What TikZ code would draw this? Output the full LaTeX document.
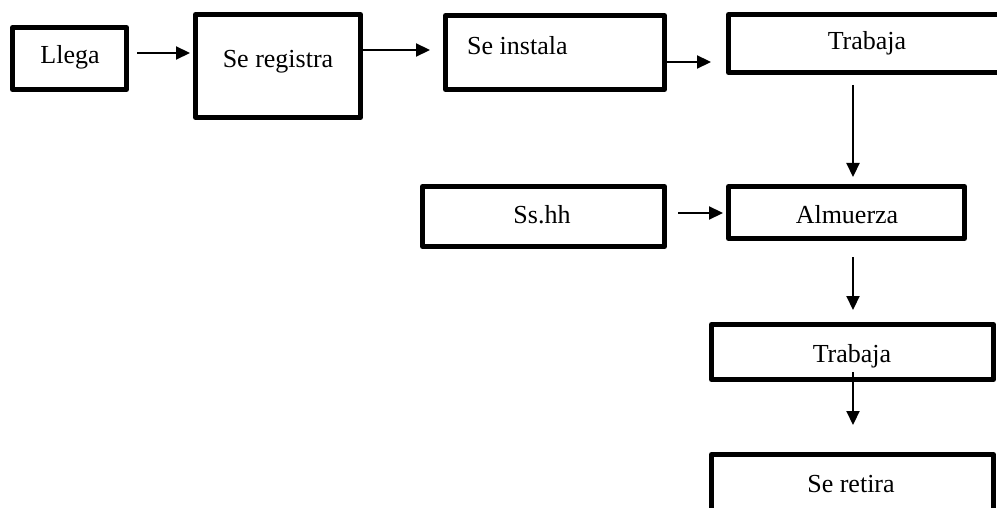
\documentclass[tikz,border=0pt]{standalone}
\usepackage{fontspec}
\setmainfont{Liberation Serif}
\usetikzlibrary{arrows.meta}
\begin{document}
\begin{tikzpicture}[x=1pt,y=-1pt,
  box/.style={draw=black, line width=5pt, line join=round, rectangle, inner sep=0pt, outer sep=0pt},
  lbl/.style={font=\fontsize{26}{30}\selectfont, inner sep=0pt, anchor=base},
  arr/.style={line width=2.2pt, -{Triangle[length=14pt,width=13pt]}}]
\useasboundingbox (0,0) rectangle (997,508);
\fill[white] (0,0) rectangle (997,508);
\clip (0,0) rectangle (997,508);
% boxes
\node[box, minimum width=114pt, minimum height=62pt] (llega) at (69.5,58.5) {};
\node[box, minimum width=165pt, minimum height=103pt] (reg) at (278,66) {};
\node[box, minimum width=219pt, minimum height=74pt] (inst) at (555,52.5) {};
\node[box, minimum width=274pt, minimum height=58pt] (trab1) at (865.5,43.5) {};
\node[box, minimum width=242pt, minimum height=60pt] (ss) at (543.5,216.5) {};
\node[box, minimum width=236pt, minimum height=52pt] (alm) at (846.5,212.5) {};
\node[box, minimum width=282pt, minimum height=55pt] (trab2) at (852.5,352) {};
\node[box, minimum width=282pt, minimum height=63pt] (ret) at (852.5,486) {};
% texts
\node[lbl] (tllega) at (70,64) {Llega};
\node[lbl] (treg) at (278,68) {Se registra};
\node[lbl, anchor=base west] (tinst) at (467,55) {Se instala};
\node[lbl] (ttrab1) at (867,50) {Trabaja};
\node[lbl] (tss) at (542,223) {Ss.hh};
\node[lbl] (talm) at (847,223) {Almuerza};
\node[lbl] (ttrab2) at (852,362) {Trabaja};
\node[lbl] (tret) at (851,492) {Se retira};
% connectors
\draw[arr, shorten <=10.5pt, shorten >=5.5pt] ([yshift=5.5pt]llega.east) -- ([yshift=13pt]reg.west);
\draw[arr, shorten >=15.5pt] ([yshift=16pt]reg.east) -- ([yshift=2.5pt]inst.west);
\draw[arr, shorten >=17.5pt] ([yshift=-9.5pt]inst.east) -- ([yshift=-18.5pt]trab1.west);
\draw[arr, shorten <=12.5pt, shorten >=9.5pt] ([xshift=-12.5pt]trab1.south) -- ([xshift=6.5pt]alm.north);
\draw[arr, shorten <=13.5pt, shorten >=5.5pt] ([yshift=3.5pt]ss.east) -- ([yshift=-0.5pt]alm.west);
\draw[arr, shorten <=18.5pt, shorten >=14.5pt] ([xshift=6.5pt]alm.south) -- ([xshift=0.5pt]trab2.north);
\draw[arr, shorten <=-7.5pt, shorten >=29.5pt] ([xshift=0.5pt]trab2.south) -- ([xshift=0.5pt]ret.north);
\end{tikzpicture}
\end{document}
